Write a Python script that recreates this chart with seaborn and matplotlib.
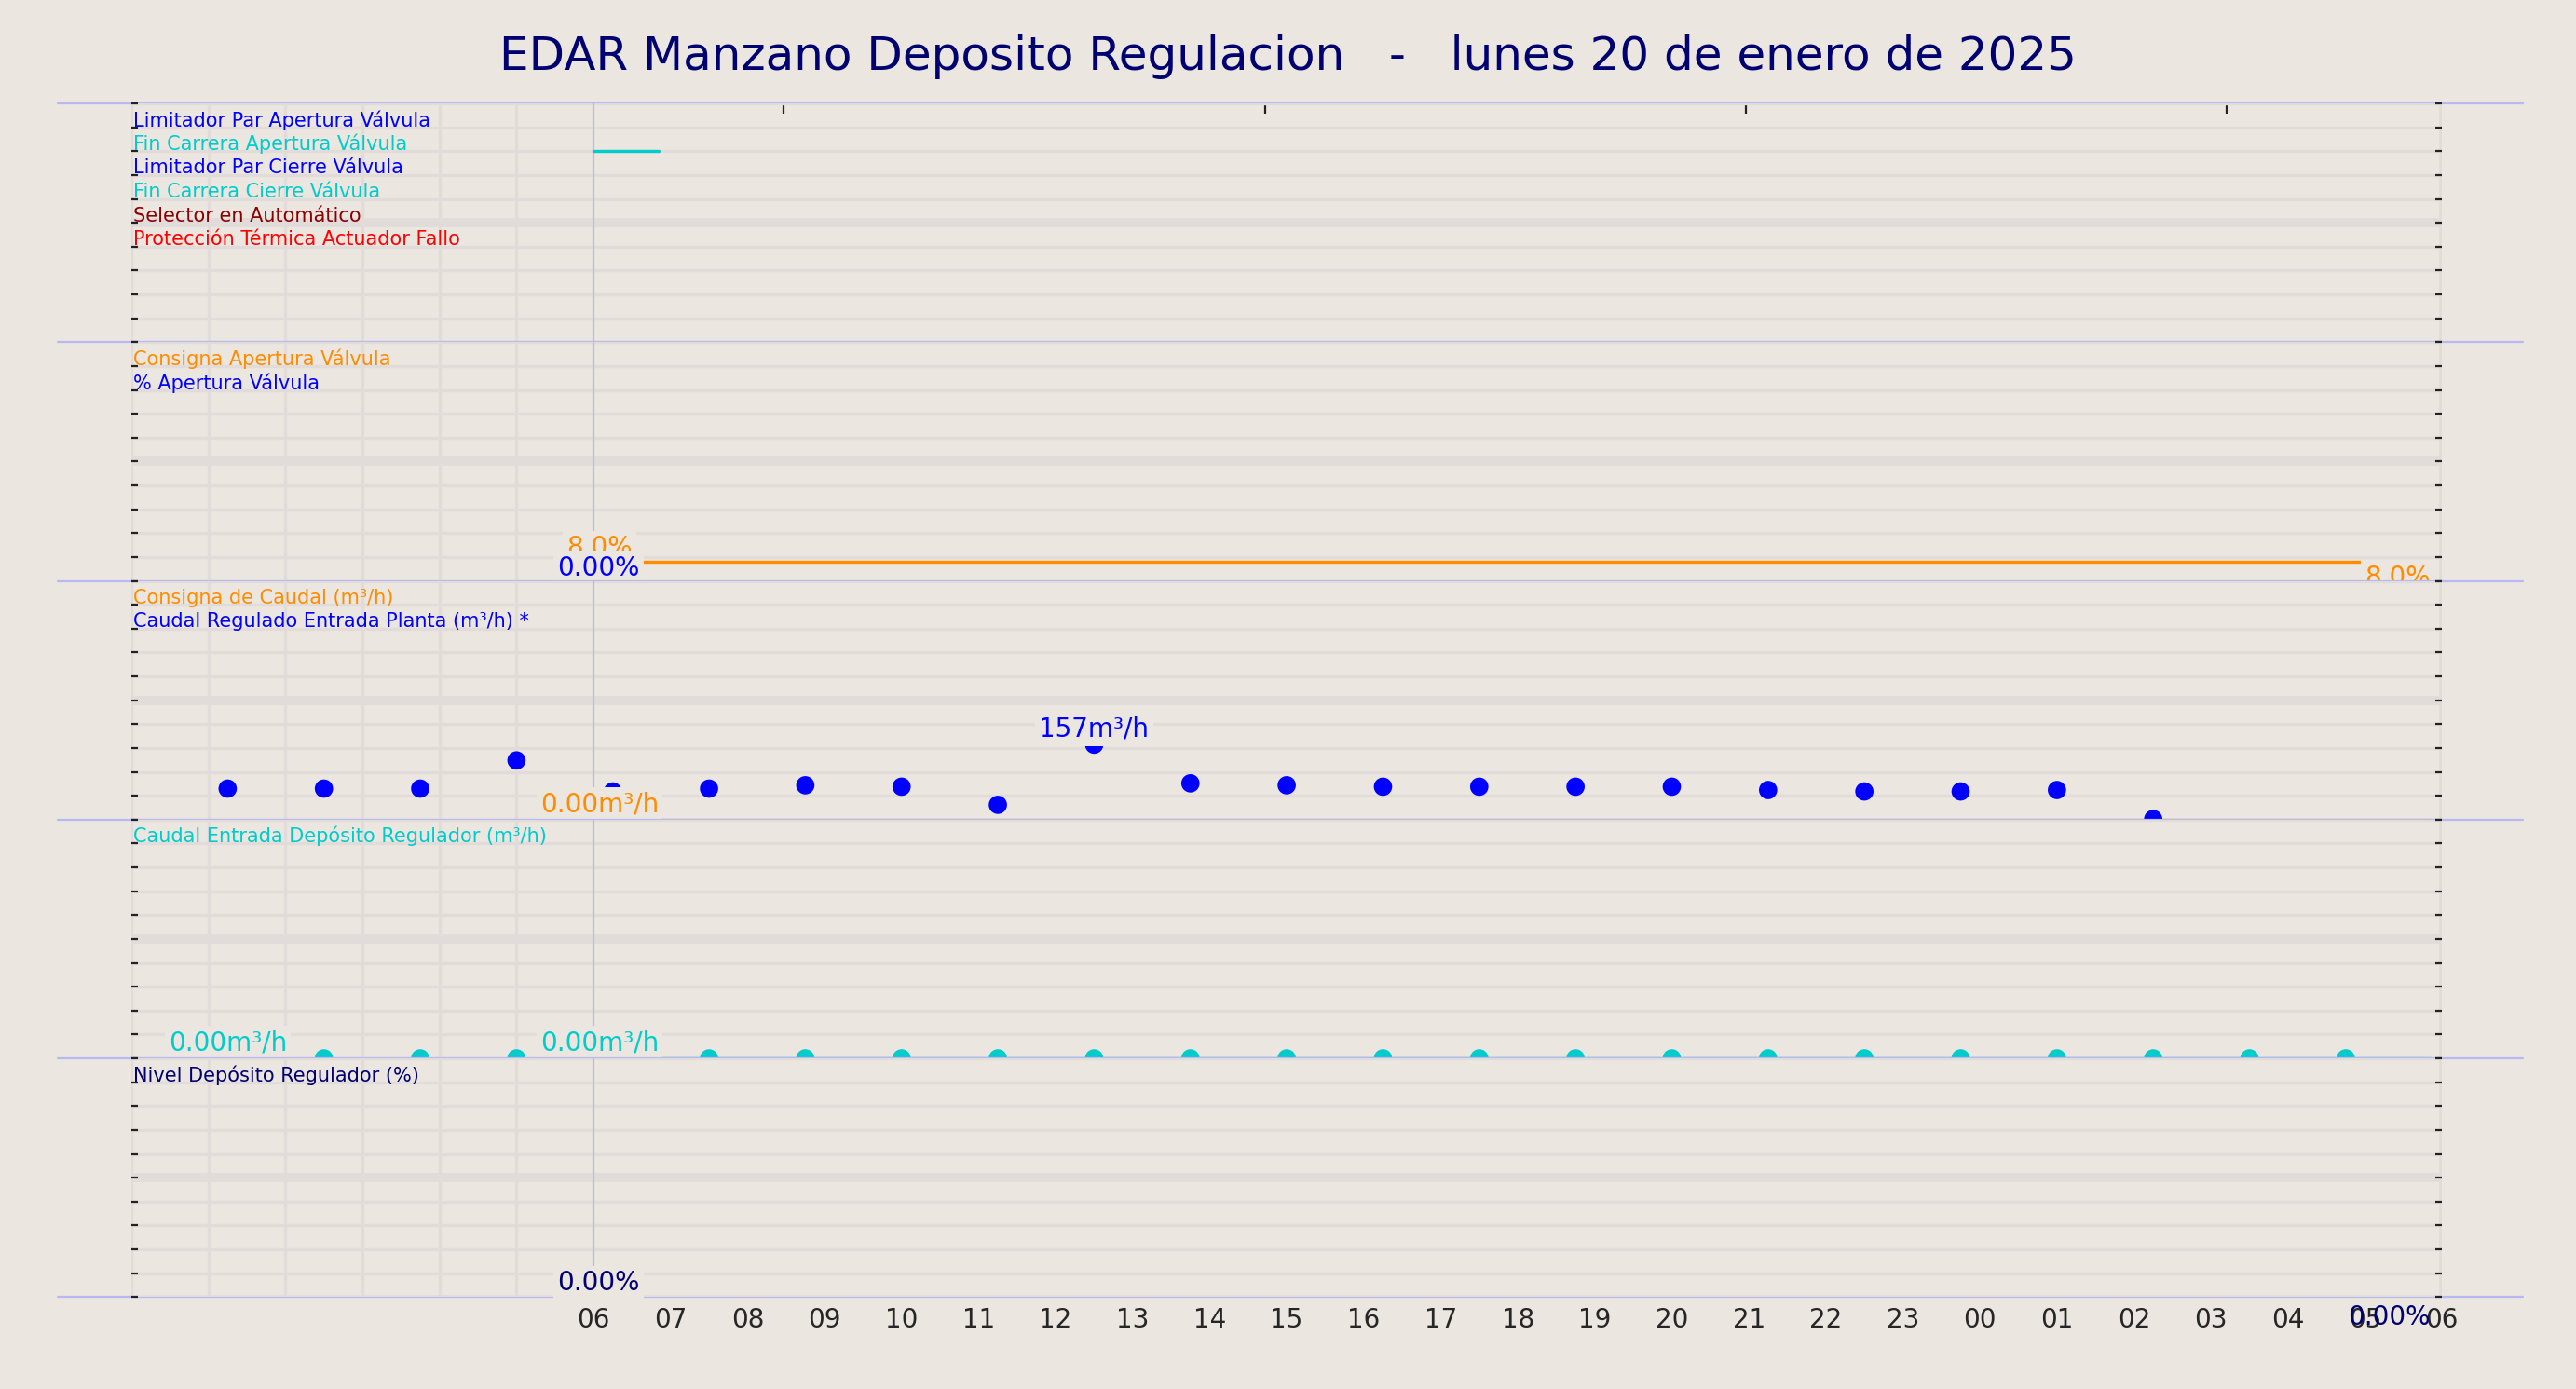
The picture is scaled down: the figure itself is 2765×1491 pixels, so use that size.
import matplotlib

matplotlib.use("Agg")
import matplotlib.pyplot as plt
import numpy as np
import pandas as pd
import seaborn as sns

BG = "#ebe6e0"
GRID = "#e1dcda"
SEP = "#b8b8f2"
BLUE = "#0000ff"
CYAN = "#00cccc"
ORANGE = "#ff8c00"
NAVY = "#000070"

TITLE = "EDAR Manzano Deposito Regulacion   -   lunes 20 de enero de 2025"

# hours since 00:00 on 20 Jan
sample_hours = [1.25, 2.5, 3.75, 5.0, 6.25, 7.5, 8.75, 10.0, 11.25, 12.5, 13.75, 15.0,
                16.25, 17.5, 18.75, 20.0, 21.25, 22.5, 23.75, 25.0, 26.25, 27.5, 28.75]
caudal_regulado = [65, 65, 65, 124, 59, 65, 72, 69, 31, 157, 76, 72,
                   69, 69, 69, 69, 62, 59, 59, 62, 1.3]
caudal_deposito = [0] * 23
consigna_caudal_t = [6.0, 29.85]
consigna_caudal = [0.0, 0.0]
consigna_apertura_t = [6.0, 29.85]
consigna_apertura = [8.0, 8.0]
apertura_t = [6.0, 29.85]
apertura = [0.0, 0.0]
fin_carrera_ap_t = [6.0, 6.85]
fin_carrera_ap = [8.0, 8.0]
hour_ticks = list(range(6, 31))
hour_labels = [f"{h % 24:02d}" for h in hour_ticks]
top_ticks = [8.47, 14.72, 20.96, 27.2]

panel1_labels = [("Limitador Par Apertura Válvula", BLUE),
                 ("Fin Carrera Apertura Válvula", CYAN),
                 ("Limitador Par Cierre Válvula", BLUE),
                 ("Fin Carrera Cierre Válvula", CYAN),
                 ("Selector en Automático", "#8b0000"),
                 ("Protección Térmica Actuador Fallo", "#ff0000")]
panel2_labels = [("Consigna Apertura Válvula", ORANGE), ("% Apertura Válvula", BLUE)]
panel3_labels = [("Consigna de Caudal (m³/h)", ORANGE),
                 ("Caudal Regulado Entrada Planta (m³/h) *", BLUE)]
panel4_labels = [("Caudal Entrada Depósito Regulador (m³/h)", CYAN)]
panel5_labels = [("Nivel Depósito Regulador (%)", NAVY)]

sns.set_theme(style="white")
plt.rcParams["font.family"] = ["DejaVu Sans"]
plt.rcParams["axes.facecolor"] = BG
plt.rcParams["figure.facecolor"] = BG

fig, axes = plt.subplots(5, 1, figsize=(13.825, 7.455), dpi=200, sharex=True)
fig.subplots_adjust(left=0.051, right=0.948, top=0.9255, bottom=0.0662, hspace=0)
fig.suptitle(TITLE, color=NAVY, fontsize=18, y=0.975)

ylims = [(0, 10), (0, 100), (0, 500), (0, 500), (0, 100)]
for ax, (lo, hi) in zip(axes, ylims):
    ax.set_xlim(0, 30)
    ax.set_ylim(lo, hi)
    ax.set_yticks(np.linspace(lo, hi, 11))
    ax.set_yticklabels([])
    ax.set_xticks(np.arange(0, 31, 1), minor=True)
    ax.grid(True, which="minor", axis="x", color=GRID, lw=1.2)
    ax.grid(True, which="major", axis="y", color=GRID, lw=1.2)
    ax.axhline((lo + hi) / 2, color=GRID, lw=3.5, zorder=0)
    for s in ax.spines.values():
        s.set_visible(False)
    ax.tick_params(axis="y", direction="in", left=True, right=True, length=2.5, width=0.8, color="#222222")
    ax.tick_params(axis="x", which="both", bottom=False, top=False, length=0)
    ax.axvline(6, color=SEP, lw=0.8, zorder=1)
    ax.axvline(30, color=GRID, lw=2, zorder=0)
    ax.axhline(hi, xmin=-0.032, xmax=1.035, color=SEP, lw=0.8, clip_on=False, zorder=0.5)

axes[-1].axhline(0, xmin=-0.032, xmax=1.035, color=SEP, lw=0.8, clip_on=False, zorder=0.5)
axes[-1].set_xticks(hour_ticks)
axes[-1].set_xticklabels(hour_labels, fontsize=10)
axes[-1].tick_params(axis="x", which="major", bottom=True, labelbottom=True, length=0, pad=4)
sec = axes[0].secondary_xaxis("top")
sec.set_xticks(top_ticks)
sec.set_xticklabels([])
sec.tick_params(length=4, width=0.8, color="#222222", direction="in")
for s in sec.spines.values():
    s.set_visible(False)


def legend_texts(ax, items):
    lo, hi = ax.get_ylim()
    for i, (txt, col) in enumerate(items):
        ax.text(0.02, hi - (hi - lo) * (0.07 + 0.1 * i), txt, color=col, fontsize=7.5,
                va="center", ha="left", zorder=6)


def val_label(ax, x, y, txt, col, ha="right", va="bottom", fs=10, box=True):
    ax.text(x, y, txt, color=col, fontsize=fs, ha=ha, va=va, zorder=8, clip_on=False,
            bbox=dict(facecolor=BG, edgecolor="none", pad=1.5) if box else None)


def flat(ax, t, v, col, lw=1.2):
    sns.lineplot(x=t, y=v, color=col, lw=lw, ax=ax)
    for ln in ax.lines[-1:]:
        ln.set_clip_on(False)
        ln.set_zorder(4)


# panel 1
flat(axes[0], fin_carrera_ap_t, fin_carrera_ap, CYAN)
legend_texts(axes[0], panel1_labels)

# panel 2
flat(axes[1], consigna_apertura_t, consigna_apertura, ORANGE)
flat(axes[1], apertura_t, apertura, BLUE, lw=1.0)
val_label(axes[1], 6.5, 8.5, "8.0%", ORANGE, ha="right", va="bottom")
val_label(axes[1], 6.6, 0.0, "0.00%", BLUE, ha="right", va="bottom")
val_label(axes[1], 29.85, 7.0, "8.0%", ORANGE, ha="right", va="top")
val_label(axes[1], 29.85, -1.5, "0.00%", BLUE, ha="right", va="top")
legend_texts(axes[1], panel2_labels)

# panel 3
df3 = pd.DataFrame({"t": sample_hours[:len(caudal_regulado)], "q": caudal_regulado})
flat(axes[2], consigna_caudal_t, consigna_caudal, ORANGE)
sns.scatterplot(data=df3, x="t", y="q", color=BLUE, s=50, edgecolor="none", ax=axes[2],
                zorder=5, clip_on=False)
val_label(axes[2], 6.85, 5, "0.00m³/h", ORANGE, ha="right", va="bottom")
val_label(axes[2], 12.5, 162, "157m³/h", BLUE, ha="center", va="bottom")
val_label(axes[2], 26.3, -8, "1.3m³/h", BLUE, ha="right", va="top")
val_label(axes[2], 29.85, -8, "0.00m³/h", ORANGE, ha="right", va="top")
legend_texts(axes[2], panel3_labels)

# panel 4
df4 = pd.DataFrame({"t": sample_hours, "q": caudal_deposito})
flat(axes[3], consigna_caudal_t, consigna_caudal, CYAN)
sns.scatterplot(data=df4, x="t", y="q", color=CYAN, s=50, edgecolor="none", ax=axes[3],
                zorder=5, clip_on=False)
val_label(axes[3], 1.25, 5, "0.00m³/h", CYAN, ha="center", va="bottom")
val_label(axes[3], 6.85, 5, "0.00m³/h", CYAN, ha="right", va="bottom")
val_label(axes[3], 28.5, -8, "0.00m³/h", CYAN, ha="right", va="top")
val_label(axes[3], 29.85, -8, "0m³/h", CYAN, ha="right", va="top", box=False)
legend_texts(axes[3], panel4_labels)

# panel 5
val_label(axes[4], 6.6, 0.5, "0.00%", NAVY, ha="right", va="bottom")
val_label(axes[4], 29.85, -3, "0.00%", NAVY, ha="right", va="top", box=False)
legend_texts(axes[4], panel5_labels)

for ax in axes:
    ax.set_xlabel("")
    ax.set_ylabel("")

fig.savefig("out.png", dpi=200, facecolor=BG)
